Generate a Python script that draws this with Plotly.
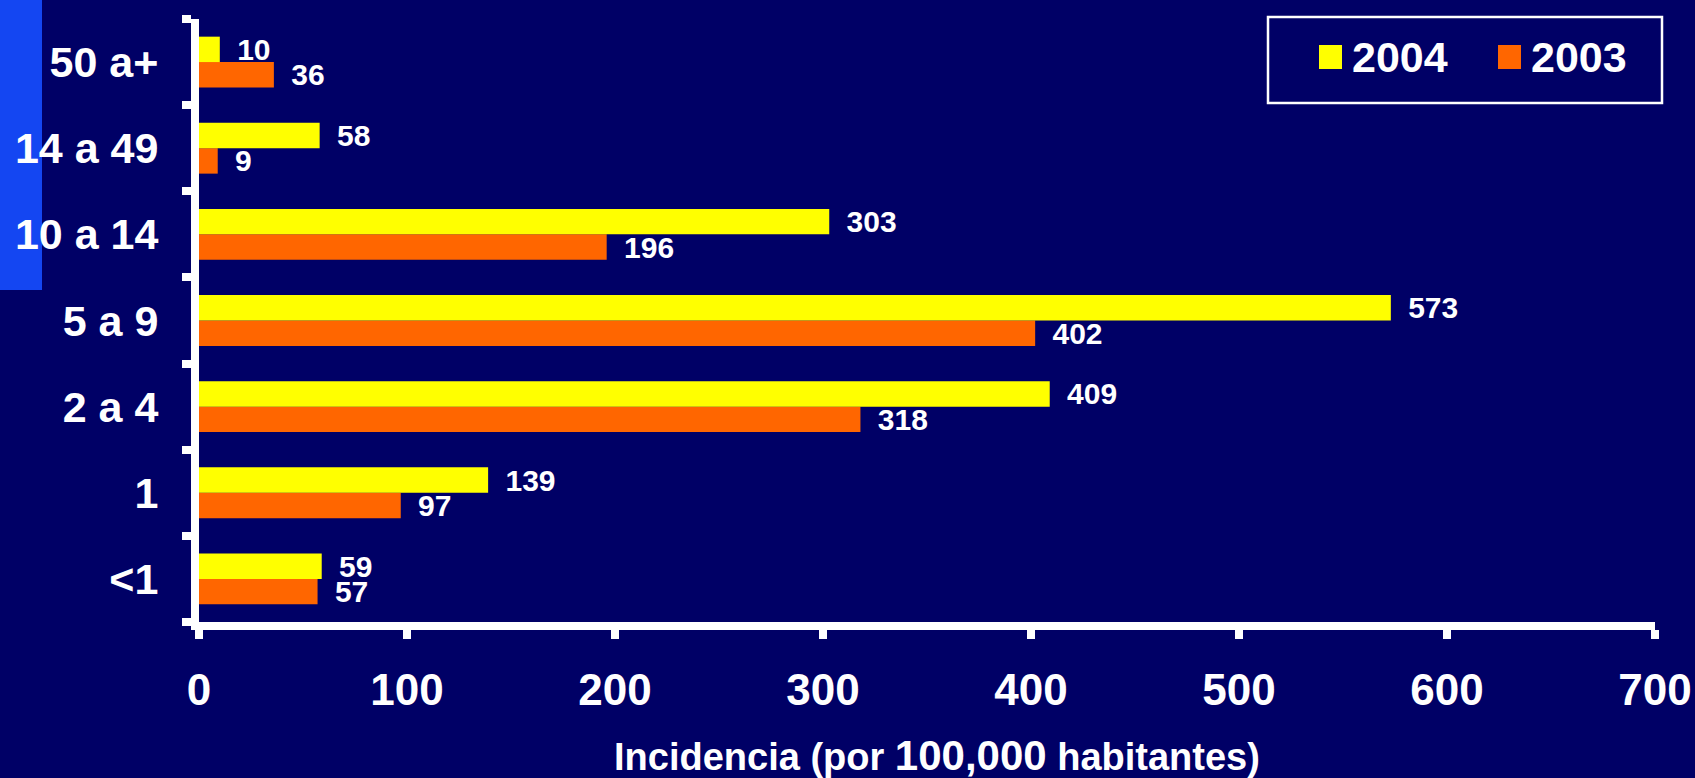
import plotly.graph_objects as go

# ---- data ----
categories = ["<1", "1", "2 a 4", "5 a 9", "10 a 14", "14 a 49", "50 a+"]
values_2003 = [57, 97, 318, 402, 196, 9, 36]
values_2004 = [59, 139, 409, 573, 303, 58, 10]
series_names = ["2003", "2004"]
x_ticks = [0, 100, 200, 300, 400, 500, 600, 700]

# ---- styling ----
W, H = 1695, 778
L, R, T, B = 199, 40, 19, 156
BG = "#000066"
YELLOW = "#FFFF00"
ORANGE = "#FF6600"
FONT = "Liberation Sans, Arial, sans-serif"

PW = W - L - R
PH = H - T - B


def px2x(px):
    return (px - L) / PW


def px2y(py):
    return (H - B - py) / PH


fig = go.Figure()
for name, vals, col in [(series_names[0], values_2003, ORANGE),
                        (series_names[1], values_2004, YELLOW)]:
    fig.add_trace(go.Bar(
        name=name, y=categories, x=vals, orientation="h",
        marker=dict(color=col, line=dict(width=0)),
        text=[f" \u2009{v}" for v in vals],
        textposition="outside",
        constraintext="none",
        cliponaxis=False,
        textfont=dict(family=FONT, size=30, color="white", weight="bold"),
        showlegend=False,
    ))

shapes = [
    # left blue stripe
    dict(type="rect", xref="paper", yref="paper",
         x0=px2x(0), x1=px2x(42), y0=px2y(0), y1=px2y(290),
         fillcolor="#1446F2", line=dict(width=0), layer="below"),
    # legend box
    dict(type="rect", xref="paper", yref="paper",
         x0=px2x(1268), x1=px2x(1662), y0=px2y(17), y1=px2y(103),
         fillcolor=BG, line=dict(color="white", width=2.5)),
    dict(type="rect", xref="paper", yref="paper",
         x0=px2x(1319), x1=px2x(1342), y0=px2y(45), y1=px2y(69),
         fillcolor=YELLOW, line=dict(width=0)),
    dict(type="rect", xref="paper", yref="paper",
         x0=px2x(1498), x1=px2x(1521), y0=px2y(45), y1=px2y(69),
         fillcolor=ORANGE, line=dict(width=0)),
]

annotations = [
    dict(text=series_names[1], xref="paper", yref="paper",
         x=px2x(1350), y=px2y(57), xanchor="left", yanchor="middle",
         showarrow=False,
         font=dict(family=FONT, size=43, color="white", weight="bold")),
    dict(text=series_names[0], xref="paper", yref="paper",
         x=px2x(1529), y=px2y(57), xanchor="left", yanchor="middle",
         showarrow=False,
         font=dict(family=FONT, size=43, color="white", weight="bold")),
    dict(text="Incidencia (por <span style='font-size:42px'>100,000</span> habitantes)",
         xref="paper", yref="paper",
         x=px2x(937), y=px2y(755), xanchor="center", yanchor="middle",
         showarrow=False,
         font=dict(family=FONT, size=38, color="white", weight="bold")),
]

fig.update_layout(
    width=W, height=H,
    margin=dict(l=L, r=R, t=T, b=B, pad=0, autoexpand=False),
    paper_bgcolor=BG, plot_bgcolor=BG,
    barmode="group", bargap=0.41, bargroupgap=0,
    showlegend=False,
    shapes=shapes, annotations=annotations,
    xaxis=dict(
        range=[0, 700], tickvals=x_ticks, ticktext=[str(t) for t in x_ticks],
        showgrid=False, zeroline=False, automargin=False,
        showline=True, linecolor="white", linewidth=8,
        ticks="outside", ticklen=9, tickwidth=8, tickcolor="white",
        ticklabelstandoff=13,
        tickfont=dict(family=FONT, size=44, color="white", weight="bold"),
        fixedrange=True,
    ),
    yaxis=dict(
        type="category", categoryorder="array", categoryarray=categories,
        showgrid=False, zeroline=False, automargin=False,
        showline=True, linecolor="white", linewidth=8,
        ticks="outside", ticklen=9, tickwidth=8, tickcolor="white",
        tickson="boundaries", ticklabelstandoff=24,
        tickfont=dict(family=FONT, size=43, color="white", weight="bold"),
        fixedrange=True,
    ),
)

fig.write_html("out.html")
